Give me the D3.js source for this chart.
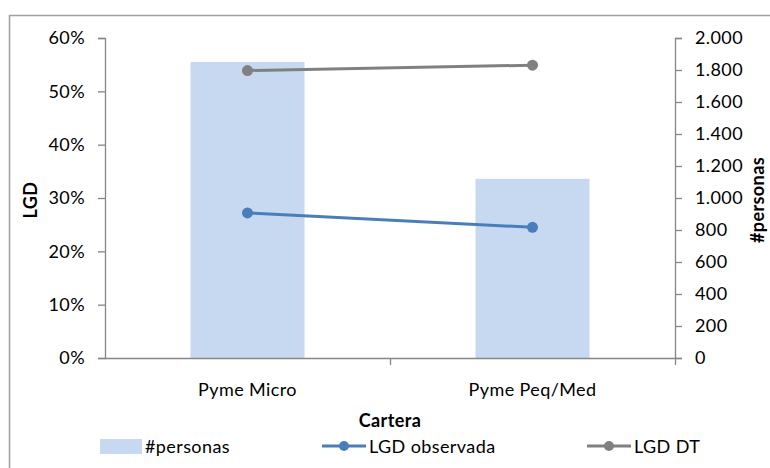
<!DOCTYPE html>
<html>
<head>
<meta charset="utf-8">
<script src="https://cdn.jsdelivr.net/npm/d3@7"></script>
<style>
  html, body { margin: 0; padding: 0; background: #fff; }
  svg { display: block; }
  text { font-family: Lato, "Noto Sans", sans-serif; fill: #000; letter-spacing: 0.4px; }
</style>
</head>
<body>
<svg id="chart" width="770" height="468"></svg>
<script>
const categories = ["Pyme Micro", "Pyme Peq/Med"];
const personas = [1850, 1120];
const lgdObservada = [0.272, 0.245];
const lgdDT = [0.539, 0.549];
const leftTicks = [0, 0.1, 0.2, 0.3, 0.4, 0.5, 0.6];
const rightTicks = [0, 200, 400, 600, 800, 1000, 1200, 1400, 1600, 1800, 2000];

const W = 770, H = 468;
const plot = { left: 105, right: 675, top: 38, bottom: 358 };
const axisColor = "#868686";
const fs = 18;

const svg = d3.select("#chart");

// outer chart frame
svg.append("rect")
  .attr("x", 9.5).attr("y", 15.5)
  .attr("width", W + 20).attr("height", H + 20)
  .attr("fill", "none").attr("stroke", "#a0a0a0").attr("stroke-width", 1.5);

const x = d3.scaleBand().domain(categories)
  .range([plot.left, plot.right]).paddingInner(0.6).paddingOuter(0.3);
const yL = d3.scaleLinear().domain([0, 0.6]).range([plot.bottom, plot.top]);
const yR = d3.scaleLinear().domain([0, 2000]).range([plot.bottom, plot.top]);

// bars
svg.append("g").selectAll("rect").data(personas).join("rect")
  .attr("x", (d, i) => x(categories[i]))
  .attr("width", x.bandwidth())
  .attr("y", d => yR(d))
  .attr("height", d => yR(0) - yR(d))
  .attr("fill", "#c6d9f0");

// axes
const fmtPct = d => Math.round(d * 100) + "%";
const fmtNum = d => d3.format(",")(d).replace(/,/g, ".");

function styleAxis(g) {
  g.selectAll("path").attr("stroke", axisColor).attr("stroke-width", 1.3);
  g.selectAll("line").attr("stroke", axisColor).attr("stroke-width", 1.3);
  g.selectAll("text").attr("font-size", fs).attr("fill", "#000")
    .attr("font-family", "Lato, 'Noto Sans', sans-serif");
}

const gL = svg.append("g").attr("transform", `translate(${plot.left},0)`)
  .call(d3.axisLeft(yL).tickValues(leftTicks).tickFormat(fmtPct).tickSizeOuter(0).tickSize(7).tickPadding(13));
styleAxis(gL);

const gR = svg.append("g").attr("transform", `translate(${plot.right},0)`)
  .call(d3.axisRight(yR).tickValues(rightTicks).tickFormat(fmtNum).tickSizeOuter(0).tickSize(7).tickPadding(13));
styleAxis(gR);

// x axis with boundary ticks
const gX = svg.append("g").attr("transform", `translate(0,${plot.bottom})`);
const xAxisScale = d3.scalePoint().domain(["a", "b", "c"]).range([plot.left, plot.right]);
gX.call(d3.axisBottom(xAxisScale).tickSize(7).tickSizeOuter(0).tickFormat(""));
styleAxis(gX);
gX.selectAll(".tick").filter(d => d === "a").remove();

svg.append("g").selectAll("text").data(categories).join("text")
  .attr("x", d => x(d) + x.bandwidth() / 2)
  .attr("y", 396)
  .attr("text-anchor", "middle")
  .attr("font-size", fs)
  .text(d => d);

// lines
const cx = (d, i) => x(categories[i]) + x.bandwidth() / 2;
function drawSeries(vals, color) {
  svg.append("path")
    .datum(vals)
    .attr("d", d3.line().x(cx).y(d => yL(d)))
    .attr("fill", "none").attr("stroke", color).attr("stroke-width", 3);
  svg.append("g").selectAll("circle").data(vals).join("circle")
    .attr("cx", cx).attr("cy", d => yL(d)).attr("r", 5.5).attr("fill", color);
}
drawSeries(lgdDT, "#808080");
drawSeries(lgdObservada, "#4a7ebb");

// axis titles
svg.append("text")
  .attr("transform", `translate(37,200) rotate(-90)`)
  .attr("text-anchor", "middle").attr("font-size", fs).attr("font-weight", "bold")
  .text("LGD");
svg.append("text")
  .attr("transform", `translate(764,200) rotate(-90)`)
  .attr("text-anchor", "middle").attr("font-size", fs).attr("font-weight", "bold")
  .text("#personas");
svg.append("text")
  .attr("x", 390).attr("y", 427)
  .attr("text-anchor", "middle").attr("font-size", fs).attr("font-weight", "bold")
  .text("Cartera");

// legend
const lg = svg.append("g");
const legY = 446;
lg.append("rect").attr("x", 100).attr("y", 439).attr("width", 42).attr("height", 15).attr("fill", "#c6d9f0");
lg.append("text").attr("x", 145).attr("y", 453).attr("font-size", fs).text("#personas");

function legLine(x0, color, label) {
  lg.append("line").attr("x1", x0).attr("x2", x0 + 44).attr("y1", legY).attr("y2", legY)
    .attr("stroke", color).attr("stroke-width", 3);
  lg.append("circle").attr("cx", x0 + 22).attr("cy", legY).attr("r", 5).attr("fill", color);
  lg.append("text").attr("x", x0 + 47).attr("y", 453).attr("font-size", fs).text(label);
}
legLine(322, "#4a7ebb", "LGD observada");
legLine(587, "#808080", "LGD DT");
</script>
</body>
</html>
